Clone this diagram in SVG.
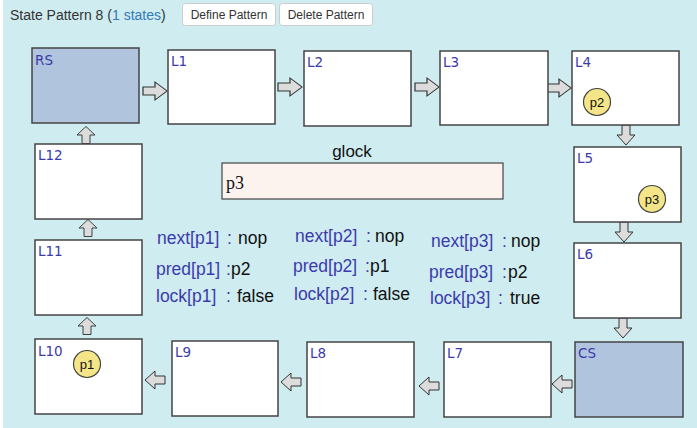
<svg xmlns="http://www.w3.org/2000/svg" width="697" height="428" viewBox="0 0 697 428">
<defs>
<style>
.bg{fill:#cfecf0}
.box{fill:#ffffff;stroke:#444;stroke-width:1.5}
.box.cs{fill:#b0c4de}
.lbl{font-family:"DejaVu Sans",Verdana,sans-serif;font-size:13.5px;fill:#3b3bab}
.tok{fill:#f3e588;stroke:#444;stroke-width:1.2}
.tokt{font-family:"Liberation Sans",Arial,sans-serif;font-size:13px;fill:#111;text-anchor:middle}
.arr{fill:#dcdcdc;stroke:#333;stroke-width:1}
.var{font-family:"Liberation Sans",Arial,sans-serif;font-size:17.5px;fill:#3b3bab}
.val{fill:#111}
.hdr{font-family:"Liberation Sans",Arial,sans-serif;font-size:14px;fill:#333}
.btn{fill:#fff;stroke:#ccc;stroke-width:1}
.btnt{font-family:"Liberation Sans",Arial,sans-serif;font-size:12px;fill:#333;text-anchor:middle}
</style>
<path id="a" class="arr" d="M-10,-4 H0 V-9 L10,0 L0,9 V4 H-10 Z"/>
</defs>
<rect x="0" y="0" width="697" height="428" fill="#fff"/>
<rect class="bg" x="3" y="0" width="694" height="428"/>
<g id="header">
<text class="hdr" x="10" y="20">State Pattern 8 (<tspan fill="#337ab7">1 states</tspan>)</text>
<rect class="btn" x="182.5" y="3.5" width="93" height="22" rx="3"/>
<text class="btnt" x="229" y="19">Define Pattern</text>
<rect class="btn" x="279.5" y="3.5" width="93" height="22" rx="3"/>
<text class="btnt" x="326" y="19">Delete Pattern</text>
</g>
<g id="connectors">
<use href="#a" transform="translate(155,91) scale(1.2,1)"/>
<use href="#a" transform="translate(290,87) scale(1.2,1)"/>
<use href="#a" transform="translate(427,87) scale(1.2,1)"/>
<use href="#a" transform="translate(559,88) scale(1.2,1)"/>
<use href="#a" transform="translate(626,135) rotate(90)"/>
<use href="#a" transform="translate(624,232) rotate(90)"/>
<use href="#a" transform="translate(623,328) rotate(90)"/>
<use href="#a" transform="translate(562,384) rotate(180)"/>
<use href="#a" transform="translate(429,386) rotate(180)"/>
<use href="#a" transform="translate(291,382) rotate(180)"/>
<use href="#a" transform="translate(155,380) rotate(180)"/>
<use href="#a" transform="translate(87,326) rotate(-90) scale(0.85,1)"/>
<use href="#a" transform="translate(88,228) rotate(-90) scale(0.85,1)"/>
<use href="#a" transform="translate(86,135) rotate(-90) scale(0.85,1)"/>
</g>
<g id="RS"><rect class="box cs" x="32" y="48" width="107" height="75"/><text class="lbl" x="35" y="65">RS</text></g>
<g id="L1"><rect class="box" x="168" y="50" width="107" height="74"/><text class="lbl" x="171" y="66">L1</text></g>
<g id="L2"><rect class="box" x="304" y="51" width="107" height="75"/><text class="lbl" x="307" y="67">L2</text></g>
<g id="L3"><rect class="box" x="440" y="51" width="108" height="74"/><text class="lbl" x="443" y="67">L3</text></g>
<g id="L4"><rect class="box" x="572" y="51" width="107" height="74"/><text class="lbl" x="575" y="67">L4</text>
<circle class="tok" cx="597" cy="102" r="13.5"/><text class="tokt" x="597" y="107">p2</text></g>
<g id="L5"><rect class="box" x="574" y="147" width="107" height="75"/><text class="lbl" x="577" y="163">L5</text>
<circle class="tok" cx="652" cy="199" r="13.5"/><text class="tokt" x="652" y="204">p3</text></g>
<g id="L6"><rect class="box" x="574" y="243" width="107" height="75"/><text class="lbl" x="577" y="259">L6</text></g>
<g id="CS"><rect class="box cs" x="575" y="342" width="108" height="75"/><text class="lbl" x="578" y="358">CS</text></g>
<g id="L7"><rect class="box" x="444" y="342" width="107" height="75"/><text class="lbl" x="447" y="358">L7</text></g>
<g id="L8"><rect class="box" x="307" y="342" width="107" height="75"/><text class="lbl" x="310" y="358">L8</text></g>
<g id="L9"><rect class="box" x="172" y="341" width="106" height="75"/><text class="lbl" x="175" y="357">L9</text></g>
<g id="L10"><rect class="box" x="35" y="339" width="107" height="75"/><text class="lbl" x="38" y="356">L10</text>
<circle class="tok" cx="87" cy="364" r="13.5"/><text class="tokt" x="87" y="369">p1</text></g>
<g id="L11"><rect class="box" x="35" y="240" width="107" height="75"/><text class="lbl" x="38" y="256">L11</text></g>
<g id="L12"><rect class="box" x="35" y="144" width="107" height="75"/><text class="lbl" x="38" y="160">L12</text></g>
<g id="glock">
<text x="352" y="157" font-family="Liberation Sans, Arial, sans-serif" font-size="17px" fill="#111" text-anchor="middle">glock</text>
<rect x="222" y="163" width="281" height="36" fill="#fdf3ee" stroke="#444" stroke-width="1.2"/>
<text x="226" y="189" font-family="Liberation Serif, Times New Roman, serif" font-size="18px" fill="#111">p3</text>
</g>
<g id="vars">
<text class="var" x="157" y="244">next[p1]<tspan x="227">:</tspan><tspan class="val" x="238">nop</tspan></text>
<text class="var" x="156" y="275">pred[p1]<tspan x="226">:</tspan><tspan class="val" x="231">p2</tspan></text>
<text class="var" x="156" y="302">lock[p1]<tspan x="226">:</tspan><tspan class="val" x="237">false</tspan></text>
<text class="var" x="295" y="242">next[p2]<tspan x="366">:</tspan><tspan class="val" x="375">nop</tspan></text>
<text class="var" x="293" y="272">pred[p2]<tspan x="365">:</tspan><tspan class="val" x="370">p1</tspan></text>
<text class="var" x="294" y="300">lock[p2]<tspan x="363">:</tspan><tspan class="val" x="373">false</tspan></text>
<text class="var" x="431" y="247">next[p3]<tspan x="502">:</tspan><tspan class="val" x="511">nop</tspan></text>
<text class="var" x="429" y="278">pred[p3]<tspan x="502">:</tspan><tspan class="val" x="508">p2</tspan></text>
<text class="var" x="430" y="304">lock[p3]<tspan x="498">:</tspan><tspan class="val" x="510">true</tspan></text>
</g>
</svg>
